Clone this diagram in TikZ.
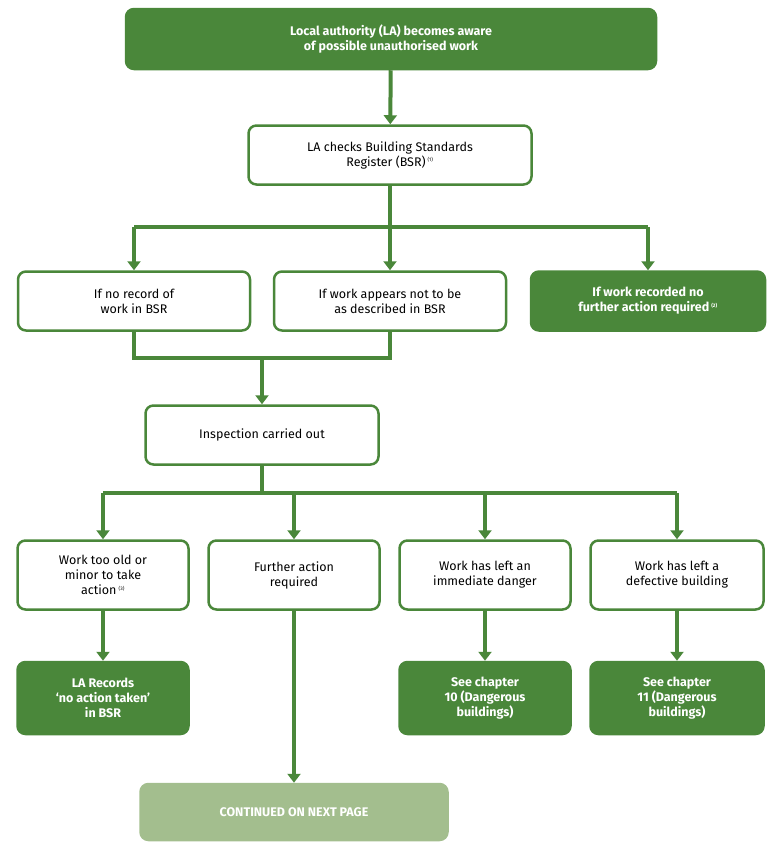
\documentclass[tikz,border=0pt]{standalone}
\usepackage{fontspec}
\setmainfont{Fira Sans}
\usetikzlibrary{arrows.meta}
\definecolor{lagreen}{HTML}{4A873A}
\definecolor{lalight}{HTML}{A3BE8E}
\tikzset{
  box/.style={draw=lagreen, line width=2.5pt, rounded corners=8pt, fill=white,
    align=center, font=\fontsize{12.5}{15}\selectfont, inner sep=0pt},
  solid box/.style={box, fill=lagreen, text=white, font=\fontsize{12.5}{15}\selectfont\bfseries},
  link/.style={draw=lagreen, line width=4pt, -{Triangle[length=9pt,width=13pt]}},
  line/.style={draw=lagreen, line width=4pt}
}
\newcommand{\fn}[1]{\textsuperscript{\tiny(#1)}}
\begin{document}
\begin{tikzpicture}[x=1pt,y=-1pt]
	\useasboundingbox (0,0) rectangle (775,849);
	% first row
	\node [solid box, minimum width=530pt, minimum height=60pt] (aware) at (391,39) {Local authority (LA) becomes aware\\of possible unauthorised work};
	\node [box, minimum width=283pt, minimum height=59pt] (bsr) at (390,155) {LA checks Building Standards\\Register (BSR)\,\fn{1}};
	% three results
	\node [box, minimum width=232pt, minimum height=59pt] (norec) at (134,301) {If no record of\\work in BSR};
	\node [box, minimum width=232pt, minimum height=59pt] (appears) at (390,301) {If work appears not to be\\as described in BSR};
	\node [solid box, minimum width=234pt, minimum height=59pt] (recorded) at (648,301) {If work recorded no\\further action required\,\fn{2}};
	\node [box, minimum width=233pt, minimum height=59pt] (inspect) at (262,435) {Inspection carried out};
	% outcomes
	\node [box, minimum width=171pt, minimum height=69pt] (old) at (103,575) {Work too old or\\minor to take\\action\,\fn{3}};
	\node [box, minimum width=171pt, minimum height=69pt] (further) at (294,575) {Further action\\required};
	\node [box, minimum width=171pt, minimum height=69pt] (danger) at (485,575) {Work has left an\\immediate danger};
	\node [box, minimum width=173pt, minimum height=69pt] (defect) at (677,575) {Work has left a\\defective building};
	\node [solid box, minimum width=171pt, minimum height=72pt] (noaction) at (103,698) {LA Records\\‘no action taken’\\in BSR};
	\node [solid box, minimum width=171pt, minimum height=72pt] (ch10) at (485,698) {See chapter\\10 (Dangerous\\buildings)};
	\node [solid box, minimum width=173pt, minimum height=72pt] (ch11) at (677,698) {See chapter\\11 (Dangerous\\buildings)};
	\node [solid box, draw=lalight, fill=lalight, minimum width=307pt, minimum height=56pt] (next) at (294,812) {CONTINUED ON NEXT PAGE};
	% junctions
	\coordinate (split1) at (390,227);
	\coordinate (join) at (262,358);
	\coordinate (split2) at (262,493);
	\draw [link] (aware) -- (bsr);
	\draw [line] (bsr) -- (split1);
	\draw [line] (norec.north |- split1) -- (recorded.north |- split1);
	\foreach \n in {norec,appears,recorded}
		\draw [link] (\n.north |- split1) -- (\n.north);
	\draw [line] (norec.south) -- (norec.south |- join) -- (appears.south |- join) -- (appears.south);
	\draw [link] (join) -- (inspect);
	\draw [line] (inspect) -- (split2);
	\draw [line] (old.north |- split2) -- (defect.north |- split2);
	\foreach \n in {old,further,danger,defect}
		\draw [link] (\n.north |- split2) -- (\n.north);
	\draw [link] (old) -- (noaction);
	\draw [link] (danger) -- (ch10);
	\draw [link] (defect) -- (ch11);
	\draw [link] (further) -- (next);
\end{tikzpicture}
\end{document}
